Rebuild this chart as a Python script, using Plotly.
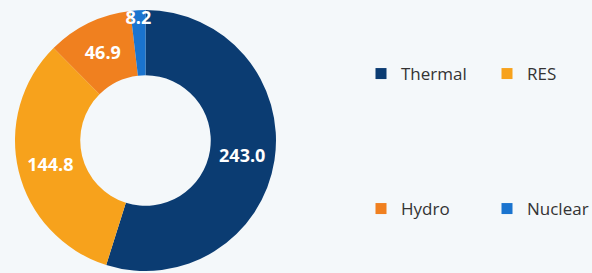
import plotly.graph_objects as go

categories = ["Thermal", "RES", "Hydro", "Nuclear"]
values = [243.0, 144.8, 46.9, 8.2]
colors = ["#0b3c72", "#f7a21c", "#f0801f", "#1a74cf"]
legend_groups = ["legend", "legend", "legend2", "legend2"]

fig = go.Figure()

fig.add_trace(go.Pie(
    labels=categories,
    values=values,
    marker=dict(colors=colors, line=dict(width=0)),
    hole=0.5,
    sort=False,
    direction="clockwise",
    rotation=0,
    texttemplate="%{value:.1f}",
    textposition="inside",
    insidetextorientation="horizontal",
    textfont=dict(family="Open Sans", size=18, color="white", weight="bold"),
    domain=dict(x=[13/592, 278/592], y=[1-271/273, 1-10/273]),
    showlegend=False,
    hoverinfo="label+value",
))

for cat, val, col, lg in zip(categories, values, colors, legend_groups):
    fig.add_trace(go.Scatter(
        x=[None], y=[None], name=cat, mode="markers",
        marker=dict(symbol="square", size=11, color=col),
        legend=lg, showlegend=True, hoverinfo="skip",
    ))

legend_font = dict(family="Open Sans", size=17, color="#333333")
fig.update_layout(
    width=592, height=273,
    margin=dict(l=0, r=0, t=0, b=0, autoexpand=False),
    paper_bgcolor="#f4f8fa",
    plot_bgcolor="rgba(0,0,0,0)",
    xaxis=dict(visible=False),
    yaxis=dict(visible=False),
    uniformtext=dict(minsize=18, mode="show"),
    legend=dict(orientation="h", x=361/592, xanchor="left", y=1-74/273, yanchor="middle",
                font=legend_font, entrywidth=81, bgcolor="rgba(0,0,0,0)", itemclick=False),
    legend2=dict(orientation="h", x=361/592, xanchor="left", y=1-209/273, yanchor="middle",
                 font=legend_font, entrywidth=81, bgcolor="rgba(0,0,0,0)", itemclick=False),
)

fig.write_html(
    "out.html",
    config={"displayModeBar": False},
    post_script="document.documentElement.style.margin='0';document.body.style.margin='0';"
                "document.body.style.overflow='hidden';",
)
